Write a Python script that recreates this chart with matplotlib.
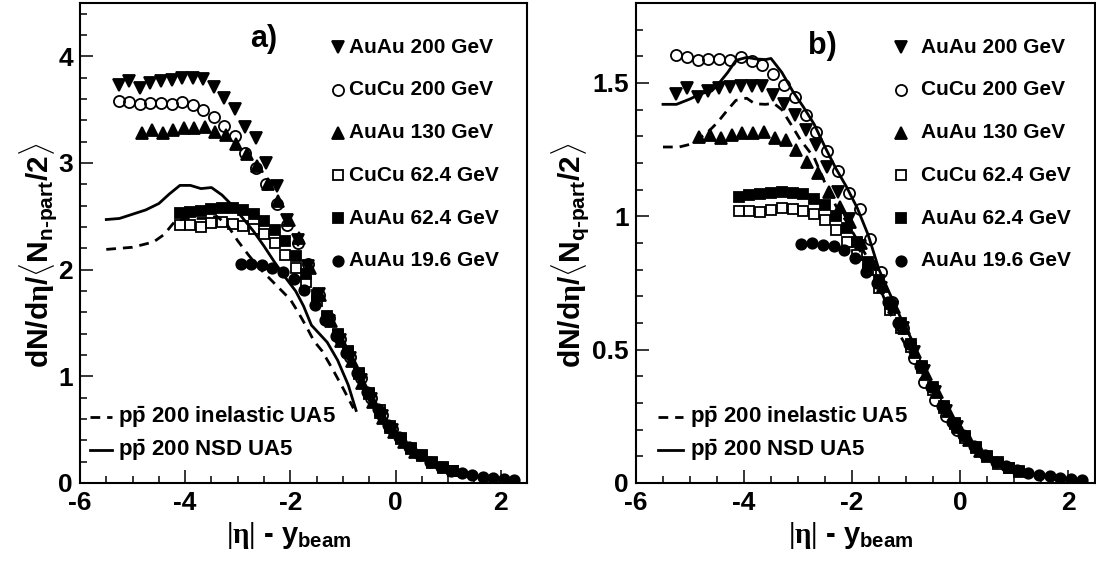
"""dN/deta per participant pair vs |eta| - y_beam, two normalisations."""

import matplotlib
matplotlib.use("Agg")
import matplotlib.pyplot as plt
from matplotlib.ticker import MultipleLocator, FuncFormatter

plt.rcParams["font.family"] = ["Liberation Sans", "DejaVu Sans"]
plt.rcParams["font.weight"] = "bold"
plt.rcParams["axes.unicode_minus"] = False
plt.rcParams["mathtext.fontset"] = "custom"
plt.rcParams["mathtext.rm"] = "Liberation Sans:bold"
plt.rcParams["mathtext.it"] = "Liberation Sans:bold"
plt.rcParams["mathtext.bf"] = "Liberation Sans:bold"
plt.rcParams["mathtext.sf"] = "Liberation Serif"

# |eta| - y_beam bin centres
x_200 = [-5.26, -5.06, -4.86, -4.66, -4.46, -4.26, -4.06, -3.86, -3.66, -3.46, -3.26, -3.06, -2.86, -2.66,
         -2.46, -2.26, -2.06, -1.86, -1.66, -1.46, -1.26, -1.06, -0.86, -0.66, -0.46, -0.26, -0.06]
x_130 = [-4.83, -4.63, -4.43, -4.23, -4.03, -3.83, -3.63, -3.43, -3.23, -3.03, -2.83, -2.63, -2.43, -2.23,
         -2.03, -1.83, -1.63, -1.43, -1.23, -1.03, -0.83, -0.63, -0.43, -0.23, -0.03, 0.17, 0.37]
x_62 = [-4.10, -3.90, -3.70, -3.50, -3.30, -3.10, -2.90, -2.70, -2.50, -2.30, -2.10, -1.90, -1.70, -1.50,
        -1.30, -1.10, -0.90, -0.70, -0.50, -0.30, -0.10, 0.10, 0.30, 0.50, 0.70, 0.90, 1.10]
x_19 = [-2.94, -2.74, -2.54, -2.34, -2.14, -1.94, -1.74, -1.54, -1.34, -1.14, -0.94, -0.74, -0.54, -0.34,
        -0.14, 0.06, 0.26, 0.46, 0.66, 0.86, 1.06, 1.26, 1.46, 1.66, 1.86, 2.06, 2.26]

# panel a: normalised to <N_n-part/2>
auau200_a = [3.73, 3.77, 3.70, 3.75, 3.77, 3.78, 3.80, 3.80, 3.79, 3.71, 3.61, 3.51, 3.34, 3.23,
             3.00, 2.78, 2.47, 2.28, 2.03, 1.77, 1.52, 1.34, 1.17, 0.97, 0.79, 0.63, 0.50]
cucu200_a = [3.58, 3.57, 3.55, 3.56, 3.56, 3.55, 3.57, 3.54, 3.50, 3.43, 3.35, 3.25, 3.09, 2.95,
             2.80, 2.62, 2.42, 2.25, 2.05, 1.76, 1.55, 1.35, 1.18, 0.98, 0.80, 0.64, 0.51]
auau130_a = [3.28, 3.31, 3.28, 3.31, 3.33, 3.33, 3.34, 3.29, 3.26, 3.18, 3.08, 2.97, 2.80, 2.64,
             2.47, 2.30, 2.02, 1.76, 1.52, 1.33, 1.14, 0.94, 0.76, 0.61, 0.48, 0.38, 0.29]
cucu62_a = [2.42, 2.42, 2.40, 2.44, 2.45, 2.43, 2.41, 2.38, 2.33, 2.25, 2.14, 2.02, 1.88, 1.71,
            1.54, 1.39, 1.24, 1.03, 0.84, 0.68, 0.53, 0.42, 0.33, 0.26, 0.20, 0.15, 0.115]
auau62_a = [2.53, 2.54, 2.55, 2.57, 2.58, 2.58, 2.56, 2.52, 2.46, 2.37, 2.27, 2.13, 1.96, 1.76,
            1.57, 1.40, 1.23, 1.02, 0.83, 0.66, 0.52, 0.41, 0.32, 0.25, 0.19, 0.145, 0.11]
auau19_a = [2.05, 2.05, 2.04, 2.02, 1.98, 1.91, 1.81, 1.67, 1.53, 1.38, 1.22, 1.03, 0.85, 0.69,
            0.54, 0.43, 0.34, 0.26, 0.20, 0.15, 0.115, 0.09, 0.072, 0.057, 0.045, 0.035, 0.026]

# panel b: normalised to <N_q-part/2>
auau200_b = [1.458, 1.480, 1.449, 1.471, 1.480, 1.484, 1.489, 1.489, 1.489, 1.455, 1.421, 1.380, 1.324, 1.268,
             1.186, 1.092, 0.99, 0.89, 0.81, 0.73, 0.66, 0.58, 0.49, 0.42, 0.34, 0.27, 0.21]
cucu200_b = [1.605, 1.596, 1.586, 1.589, 1.590, 1.586, 1.596, 1.582, 1.567, 1.534, 1.492, 1.449, 1.380, 1.317,
             1.246, 1.170, 1.086, 1.026, 0.914, 0.792, 0.68, 0.58, 0.47, 0.38, 0.31, 0.25, 0.20]
auau130_b = [1.299, 1.305, 1.292, 1.305, 1.314, 1.311, 1.317, 1.292, 1.286, 1.249, 1.205, 1.161, 1.092, 1.036,
             0.98, 0.90, 0.82, 0.74, 0.66, 0.58, 0.49, 0.41, 0.34, 0.27, 0.21, 0.16, 0.12]
cucu62_b = [1.021, 1.021, 1.017, 1.024, 1.030, 1.026, 1.021, 1.009, 0.986, 0.949, 0.905, 0.855, 0.80, 0.73,
            0.65, 0.58, 0.51, 0.43, 0.35, 0.28, 0.22, 0.17, 0.13, 0.098, 0.073, 0.055, 0.042]
auau62_b = [1.071, 1.080, 1.084, 1.089, 1.092, 1.089, 1.084, 1.064, 1.042, 1.000, 0.958, 0.905, 0.83, 0.76,
            0.67, 0.60, 0.52, 0.44, 0.36, 0.29, 0.225, 0.175, 0.135, 0.10, 0.077, 0.058, 0.045]
auau19_b = [0.896, 0.899, 0.892, 0.889, 0.874, 0.843, 0.792, 0.749, 0.68, 0.60, 0.52, 0.44, 0.36, 0.29,
            0.23, 0.18, 0.14, 0.105, 0.08, 0.062, 0.048, 0.038, 0.031, 0.025, 0.019, 0.015, 0.011]

# UA5 p-pbar 200 GeV curves
nsd_x_a = [-5.5, -5.25, -5.0, -4.75, -4.5, -4.3, -4.1, -3.9, -3.7, -3.5, -3.3, -3.1, -2.9, -2.7,
           -2.5, -2.3, -2.1, -1.9, -1.75, -1.6, -1.45, -1.3, -1.1, -0.9, -0.75]
nsd_y_a = [2.47, 2.48, 2.52, 2.56, 2.62, 2.71, 2.79, 2.79, 2.76, 2.77, 2.70, 2.60, 2.48, 2.36,
           2.22, 2.07, 1.93, 1.80, 1.66, 1.48, 1.40, 1.32, 1.15, 0.92, 0.68]
inel_x_a = [-5.5, -5.0, -4.6, -4.4, -4.2, -4.0, -3.8, -3.6, -3.4, -3.2, -3.0, -2.8, -2.6, -2.4,
            -2.2, -2.0, -1.85, -1.7, -1.55, -1.4, -1.2, -1.0, -0.8]
inel_y_a = [2.19, 2.21, 2.26, 2.33, 2.45, 2.48, 2.48, 2.48, 2.50, 2.42, 2.27, 2.14, 2.02, 1.92,
            1.82, 1.72, 1.60, 1.47, 1.33, 1.24, 1.07, 0.89, 0.70]
nsd_x_b = [-5.5, -5.25, -5.0, -4.8, -4.6, -4.5, -4.3, -4.15, -3.95, -3.77, -3.6, -3.5, -3.3, -3.1,
           -2.9, -2.7, -2.5, -2.3, -2.1, -1.9, -1.7, -1.5, -1.3, -1.1, -0.9]
nsd_y_b = [1.42, 1.42, 1.44, 1.46, 1.47, 1.49, 1.54, 1.585, 1.596, 1.59, 1.588, 1.592, 1.54, 1.47,
           1.41, 1.345, 1.26, 1.18, 1.11, 1.03, 0.93, 0.80, 0.71, 0.62, 0.54]
inel_x_b = [-5.5, -5.2, -5.0, -4.85, -4.7, -4.5, -4.3, -4.15, -3.95, -3.8, -3.6, -3.45, -3.3, -3.1,
            -2.95, -2.7, -2.5, -2.3, -2.1, -1.9, -1.7, -1.5, -1.3, -1.1, -0.9]
inel_y_b = [1.26, 1.26, 1.27, 1.29, 1.31, 1.35, 1.40, 1.435, 1.443, 1.422, 1.42, 1.424, 1.40, 1.335,
            1.285, 1.22, 1.125, 1.04, 0.98, 0.91, 0.84, 0.74, 0.64, 0.55, 0.48]

labels = ["AuAu 200 GeV", "CuCu 200 GeV", "AuAu 130 GeV", "CuCu 62.4 GeV", "AuAu 62.4 GeV", "AuAu 19.6 GeV"]
markers = ["v", "o", "^", "s", "s", "o"]
filled = [True, False, True, False, True, True]
msizes = [8.5, 8, 8.5, 7, 7, 7.5]


def draw_marker(ax, x, y, i, **kw):
    ax.plot(x, y, ls="none", marker=markers[i], ms=msizes[i], color="black",
            mfc="black" if filled[i] else "none", mec="black", mew=1.3, **kw)


def draw_panel(ax, xs, ys, inel, nsd, ymax, ymajor, yminor, tag, tag_xy, ylabel, ylab_x, leg):
    ax.plot(*inel, color="black", lw=2.0, ls=(0, (3.5, 2.5)))
    ax.plot(*nsd, color="black", lw=2.0)
    for i, (x, y) in enumerate(zip(xs, ys)):
        draw_marker(ax, x, y, i, zorder=3)

    ax.set_xlim(-6, 2.5)
    ax.set_ylim(0, ymax)
    ax.xaxis.set_major_locator(MultipleLocator(2))
    ax.xaxis.set_minor_locator(MultipleLocator(0.5))
    ax.yaxis.set_major_locator(MultipleLocator(ymajor))
    ax.yaxis.set_minor_locator(MultipleLocator(yminor))
    ax.yaxis.set_major_formatter(FuncFormatter(lambda v, p: f"{v:g}"))
    ax.tick_params(which="both", direction="in", top=False, right=False, width=1.1)
    ax.tick_params(which="major", length=9.5, labelsize=19)
    ax.tick_params(which="minor", length=5)
    ax.tick_params(axis="y", pad=5)
    ax.tick_params(axis="x", pad=6)
    for lab in ax.get_xticklabels() + ax.get_yticklabels():
        lab.set_fontweight("bold")
    for sp in ax.spines.values():
        sp.set_linewidth(1.5)

    ax.text(*tag_xy, tag, transform=ax.transAxes, fontsize=22, fontweight="bold", ha="center", va="center")
    ax.text(0.468, -0.11, r"$\mathsf{|\eta|}$ - $y_{beam}$", transform=ax.transAxes,
            fontsize=21, ha="center", va="center")
    ax.text(ylab_x, 0.475, ylabel, transform=ax.transAxes, rotation=90,
            fontsize=21.5, ha="center", va="center")

    mx, tx = leg
    for i, lab in enumerate(labels):
        yy = 0.908 - i * 0.089
        draw_marker(ax, [mx], [yy], i, transform=ax.transAxes, clip_on=False)
        ax.text(tx, yy, lab, transform=ax.transAxes, fontsize=15, fontweight="bold", va="center")


def pp_legend(ax, lx0, lx1, ltx):
    ax.plot([lx0, lx1], [0.1375, 0.1375], transform=ax.transAxes, color="black", lw=2.0,
            ls=(0, (3.5, 2.5)))
    ax.text(ltx, 0.1375, r"$p\bar{p}$ 200 inelastic UA5", transform=ax.transAxes,
            fontsize=16, fontweight="bold", va="center")
    ax.plot([lx0, lx1], [0.069, 0.069], transform=ax.transAxes, color="black", lw=2.0)
    ax.text(ltx, 0.069, r"$p\bar{p}$ 200 NSD UA5", transform=ax.transAxes,
            fontsize=16, fontweight="bold", va="center")


def main() -> None:
    fig = plt.figure(figsize=(10.96, 5.64), dpi=100)
    ax_a = fig.add_axes([80 / 1096, 81 / 564, 447 / 1096, 480 / 564])
    ax_b = fig.add_axes([636 / 1096, 81 / 564, 459 / 1096, 480 / 564])

    xs = [x_200, x_200, x_130, x_62, x_62, x_19]
    draw_panel(ax_a, xs, [auau200_a, cucu200_a, auau130_a, cucu62_a, auau62_a, auau19_a],
               (inel_x_a, inel_y_a), (nsd_x_a, nsd_y_a), 4.5, 1, 0.2, "a)", (0.412, 0.925),
               r"$dN/d\mathsf{\eta}/\langle N_{n\text{-}part}/2\rangle$", -0.093, (0.577, 0.602))
    draw_panel(ax_b, xs, [auau200_b, cucu200_b, auau130_b, cucu62_b, auau62_b, auau19_b],
               (inel_x_b, inel_y_b), (nsd_x_b, nsd_y_b), 1.8, 0.5, 0.1, "b)", (0.407, 0.910),
               r"$dN/d\mathsf{\eta}/\langle N_{q\text{-}part}/2\rangle$", -0.142, (0.577, 0.621))
    pp_legend(ax_a, 0.022, 0.072, 0.085)
    pp_legend(ax_b, 0.048, 0.102, 0.118)

    fig.savefig("out.png", dpi=100)


if __name__ == "__main__":
    main()
